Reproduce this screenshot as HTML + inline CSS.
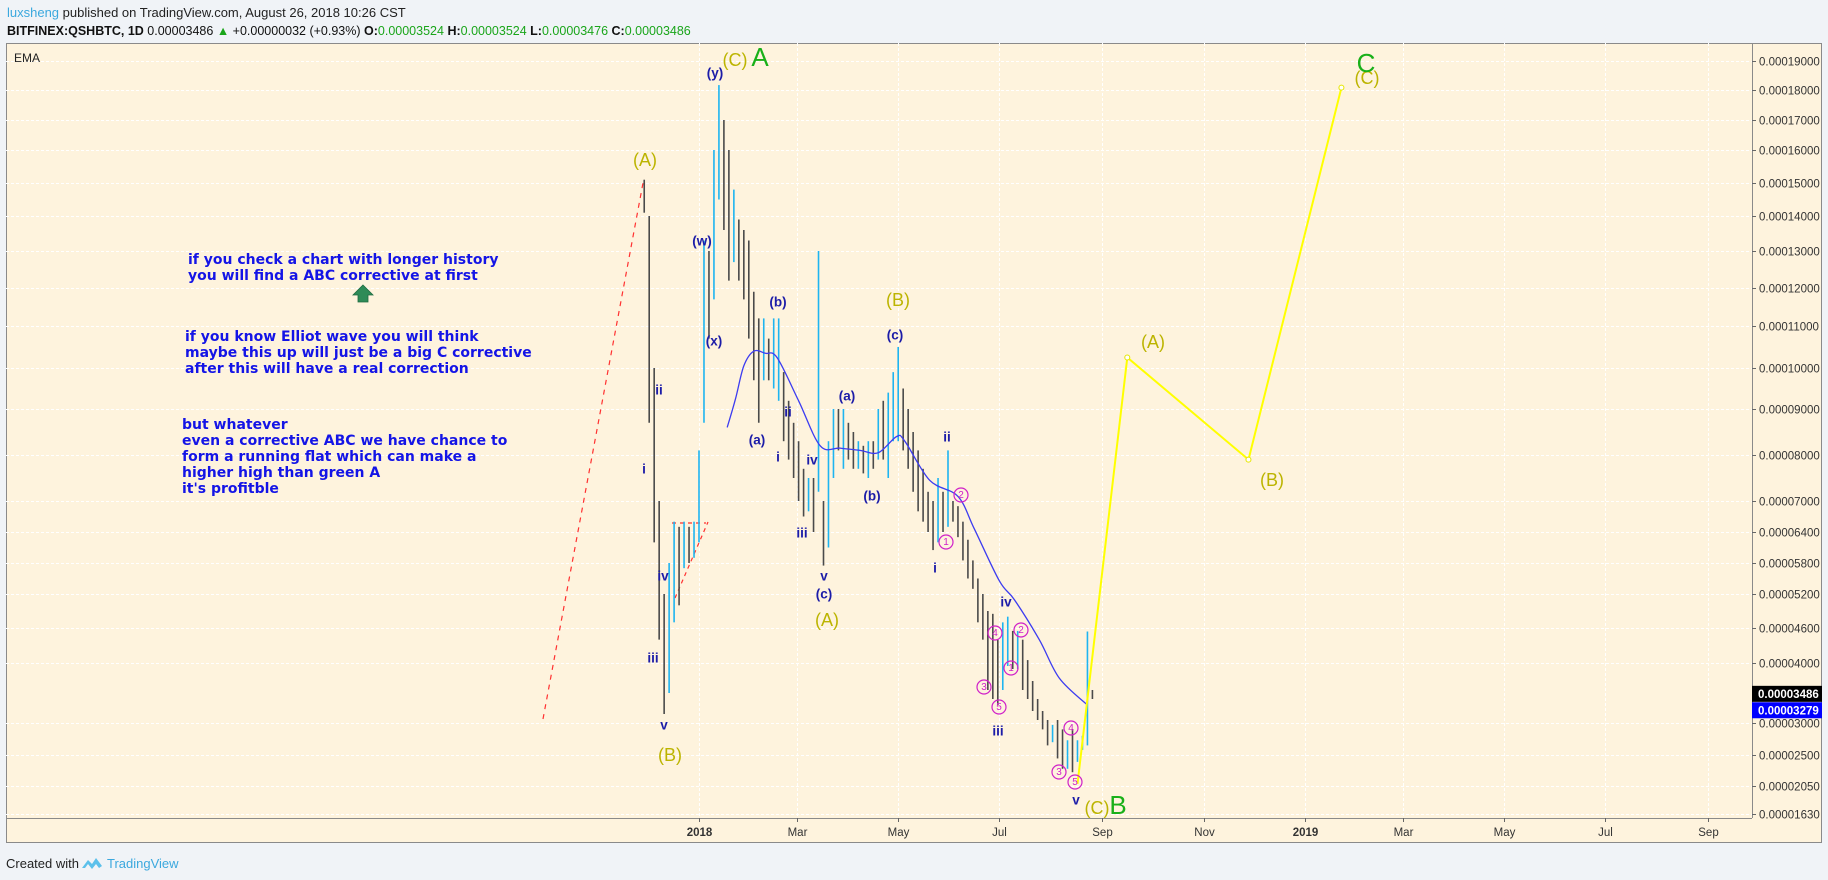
<!DOCTYPE html>
<html><head><meta charset="utf-8">
<style>
html,body{margin:0;padding:0;background:#f0f3f7;}
svg{display:block;font-family:"Liberation Sans",Arial,sans-serif;}
</style></head>
<body>
<svg id="chart" width="1828" height="880" viewBox="0 0 1828 880">
  <rect x="0" y="0" width="1828" height="880" fill="#f0f3f7"/>
  <g>
    <text x="7" y="17" font-size="13" fill="#222"><tspan fill="#3ba8de">luxsheng</tspan> published on TradingView.com, August 26, 2018 10:26 CST</text>
    <text x="7" y="35" font-size="12.5" fill="#111"><tspan font-weight="bold">BITFINEX:QSHBTC, 1D</tspan> 0.00003486 <tspan fill="#1aa51a">▲</tspan> +0.00000032 (+0.93%) <tspan font-weight="bold">O:</tspan><tspan fill="#1aa51a">0.00003524</tspan> <tspan font-weight="bold">H:</tspan><tspan fill="#1aa51a">0.00003524</tspan> <tspan font-weight="bold">L:</tspan><tspan fill="#1aa51a">0.00003476</tspan> <tspan font-weight="bold">C:</tspan><tspan fill="#1aa51a">0.00003486</tspan></text>
  </g>
  <rect x="6.5" y="43.5" width="1815" height="799" fill="#fef3dd" stroke="#8a8a8a" stroke-width="1"/>
  <g id="grid"></g>
  <g id="annot-under"></g>
  <g id="bars"></g>
  <g id="ema"></g>
  <g id="annot"></g>
  <line x1="6" y1="818.5" x2="1752" y2="818.5" stroke="#8a8a8a"/>
  <line x1="1752.5" y1="43" x2="1752.5" y2="818" stroke="#8a8a8a"/>
  <g id="yaxis"></g>
  <g id="xaxis"></g>
  <text x="14" y="62" font-size="12" fill="#222">EMA</text>
  <g font-family="'DejaVu Sans',sans-serif" font-weight="bold" font-size="14" fill="#1414e6">
    <text x="188" y="264">if you check a chart with longer history</text>
    <text x="188" y="280">you will find a ABC corrective at first</text>
    <text x="185" y="341">if you know Elliot wave you will think</text>
    <text x="185" y="357">maybe this up will just be a big C corrective</text>
    <text x="185" y="373">after this will have a real correction</text>
    <text x="182" y="429">but whatever</text>
    <text x="182" y="445">even a corrective ABC we have chance to</text>
    <text x="182" y="461">form a running flat which can make a</text>
    <text x="182" y="477">higher high than green A</text>
    <text x="182" y="493">it's profitble</text>
  </g>
  <path d="M363,285 L373,295 L368,295 L368,302 L358,302 L358,295 L353,295 Z" fill="#2e8b57" stroke="#1f6b40" stroke-width="0.8"/>
  <g>
    <text x="6" y="868" font-size="13" fill="#222">Created with</text>
    <path d="M82,868 L88,860 L92,864 L96,858 L102,866 L99,868 L96,864 L92,869 L88,864 L85,868 Z" fill="#5bc0eb"/>
    <text x="107" y="868" font-size="13" fill="#3ba8de">TradingView</text>
  </g>
</svg>
<script>
// ---- data (prices in satoshi, 1e-8 BTC) ----
const priceTicks = [19000,18000,17000,16000,15000,14000,13000,12000,11000,10000,9000,8000,7000,6400,5800,5200,4600,4000,3000,2500,2050,1630];
const tickY      = [61,90,120,150,183,216,251,288,326,368,409,455,501,532,563,594,628,663,723,755,786,814];
const timeLabels = ["2018","Mar","May","Jul","Sep","Nov","2019","Mar","May","Jul","Sep"];
const timeDays   = [0,59,120,181,243,304,365,424,485,546,608];
const barDays = [-33,-30,-27,-24,-21,-18,-15,-12,-9,-6,-3,0,3,6,9,12,15,18,21,24,27,30,33,36,39,42,45,48,51,54,57,60,63,66,69,72,75,78,81,84,87,90,93,96,99,102,105,108,111,114,117,120,123,126,129,132,135,138,141,144,147,150,153,156,159,162,165,168,171,174,177,180,183,186,189,192,195,198,201,204,207,210,213,216,219,222,225,228,231,234,237];
const barHigh = [15100,14000,10000,7000,5200,5800,6600,6500,6600,6500,6600,8100,13300,13000,16000,18170,17000,16000,14800,13900,13600,13300,11900,11200,11200,10700,11200,11200,9900,9200,8700,8300,7700,7500,7500,13000,7000,8300,9000,9000,9000,8700,8500,8300,8200,8300,8300,9000,9200,9400,9900,10500,9500,9000,8500,8100,7700,7200,7000,7500,7200,8100,7000,6900,6600,6250,5850,5500,5200,4900,4850,4400,4700,4800,4550,4550,4400,4050,3700,3400,3200,3050,2970,3050,2900,2730,2900,2730,2800,4540,3550];
const barLow  = [14100,8700,6200,4400,3150,3500,4700,5000,5700,5800,5900,6200,8700,10700,11700,14500,13600,12200,12700,12200,11700,10700,9700,8700,9700,9700,9500,9200,8300,7900,7500,7000,6700,6800,6400,7200,5750,6100,7500,8100,7700,7900,7700,7700,7600,7500,7700,7900,7900,7500,8300,8300,8100,7700,7200,6800,6600,6400,6050,6200,6400,6500,6600,6300,5850,5500,5300,4700,4400,3550,3400,3300,3550,3950,3900,3900,3550,3400,3200,3050,2900,2650,2700,2450,2300,2300,2250,2400,2580,2650,3400];
const barUp   = [0,0,0,0,0,1,1,0,1,0,1,1,1,0,1,1,0,0,1,0,0,0,0,0,1,0,1,1,0,0,0,0,0,1,0,1,0,1,1,0,1,0,0,1,0,1,0,1,0,1,1,1,0,0,0,0,0,0,0,1,0,1,0,0,0,0,0,0,0,0,0,0,1,1,0,1,0,0,0,0,0,0,1,0,0,1,0,1,1,1,0];
const emaDays = [17,22,27,33,40,47,60,73,85,97,108,119,124,139,156,166,181,190,205,217,234];
const emaVals = [8600,9250,10050,10400,10350,10250,9200,8200,8150,8100,8050,8400,8300,7450,7100,6450,5450,5100,4400,3750,3300];
const lastPrice = 3486, emaLast = 3279;
const projDays = [228,258,331,387];
const projVals = [2080,10250,7900,18080];

const NS="http://www.w3.org/2000/svg";
function xOf(d){ return 699 + d*1.66; }
function yOf(p){
  for(let i=0;i<priceTicks.length-1;i++){
    const a=priceTicks[i], b=priceTicks[i+1];
    if(p<=a && p>=b) return tickY[i] + (a-p)/(a-b)*(tickY[i+1]-tickY[i]);
  }
  if(p>priceTicks[0]) return tickY[0] - (p-priceTicks[0])/(priceTicks[0]-priceTicks[1])*(tickY[1]-tickY[0]);
  const n=priceTicks.length-1;
  return tickY[n] + (priceTicks[n]-p)/(priceTicks[n-1]-priceTicks[n])*(tickY[n]-tickY[n-1]);
}
function mk(tag, attrs, parent){ const e=document.createElementNS(NS,tag); for(const k in attrs) e.setAttribute(k,attrs[k]); parent.appendChild(e); return e; }
function fmt(p){ return (p/1e8).toFixed(8); }

const grid=document.getElementById('grid');
const yaxis=document.getElementById('yaxis');
priceTicks.forEach((p)=>{
  const y=Math.round(yOf(p))+0.5;
  const g=mk('line',{x1:6,y1:y,x2:1752,y2:y,stroke:'#ffffff','stroke-dasharray':'3,2','stroke-width':1},grid);
  
  
  const t=mk('line',{x1:1752,y1:y,x2:1756,y2:y,stroke:'#666'},yaxis);
  
  
  const l=mk('text',{x:1759,y:y+4,'font-size':11.5,fill:'#333'},yaxis);
  l.textContent=fmt(p);
  
  
});
const xaxis=document.getElementById('xaxis');
timeLabels.forEach((lab,i)=>{
  const x=Math.round(xOf(timeDays[i]))+0.5;
  const g=mk('line',{x1:x,y1:43,x2:x,y2:818,stroke:'#ffffff','stroke-dasharray':'3,2'},grid);
  
  
  const t=mk('line',{x1:x,y1:818,x2:x,y2:822,stroke:'#666'},xaxis);
  
  
  const l=mk('text',{x:x,y:836,'font-size':11.5,fill:'#333','text-anchor':'middle','font-weight':(lab.length===4?'bold':'normal')},xaxis);
  l.textContent=lab;
  
  
});

// bars
const bars=document.getElementById('bars');
barDays.forEach((d,i)=>{
  const x=xOf(d), col=barUp[i]?'#1eb4f0':'#4a4a4a';
  const b=mk('line',{x1:x,y1:yOf(barHigh[i]),x2:x,y2:yOf(barLow[i]),stroke:col,'stroke-width':1.6},bars);
  
  
});

// EMA (smooth catmull-rom through sampled values)
const ema=document.getElementById('ema');
const pts=emaDays.map((d,i)=>[xOf(d),yOf(emaVals[i])]);
let dstr='M'+pts[0][0].toFixed(1)+','+pts[0][1].toFixed(1);
for(let i=0;i<pts.length-1;i++){
  const p0=pts[Math.max(0,i-1)],p1=pts[i],p2=pts[i+1],p3=pts[Math.min(pts.length-1,i+2)];
  const c1=[p1[0]+(p2[0]-p0[0])/6,p1[1]+(p2[1]-p0[1])/6];
  const c2=[p2[0]-(p3[0]-p1[0])/6,p2[1]-(p3[1]-p1[1])/6];
  dstr+=' C'+c1[0].toFixed(1)+','+c1[1].toFixed(1)+' '+c2[0].toFixed(1)+','+c2[1].toFixed(1)+' '+p2[0].toFixed(1)+','+p2[1].toFixed(1);
}
const ep=mk('path',{d:dstr,fill:'none',stroke:'#3c3cf0','stroke-width':1.3},ema);



// last price labels
[[lastPrice,'#000'],[emaLast,'#0000ff']].forEach(([p,c],i)=>{
  const y=yOf(p)+(i===1?4:0);
  const r=mk('rect',{x:1752,y:y-8,width:70,height:16,fill:c},yaxis);
  
  
  const t=mk('text',{x:1758,y:y+4,'font-size':11.5,'font-weight':'bold',fill:'#fff'},yaxis);
  t.textContent=fmt(p);
  
  
});

// annotations
const an=document.getElementById('annot'), au=document.getElementById('annot-under');
const r1=mk('line',{x1:543,y1:719,x2:643,y2:183,stroke:'#ff3030','stroke-width':1.2,'stroke-dasharray':'5,5'},au);


const r2=mk('line',{x1:675,y1:598,x2:708,y2:522,stroke:'#ff3030','stroke-width':1.2,'stroke-dasharray':'4,4'},au);


const r3=mk('line',{x1:672,y1:523,x2:706,y2:523,stroke:'#ff3030','stroke-width':1.2,'stroke-dasharray':'4,4'},au);



const pj=mk('polyline',{points:projDays.map((d,i)=>xOf(d).toFixed(1)+','+yOf(projVals[i]).toFixed(1)).join(' '),fill:'none',stroke:'#ffff00','stroke-width':2},an);


projDays.slice(1).forEach((d,i)=>{
  const c=mk('circle',{cx:xOf(d),cy:yOf(projVals[i+1]),r:2.5,fill:'#fff',stroke:'#e6e600'},an);
  
  
});

function label(txt,x,y,size,color,weight,name){
  const t=mk('text',{x:x,y:y,'font-size':size,fill:color,'text-anchor':'middle','dominant-baseline':'central','font-weight':weight||'normal'},an);
  t.textContent=txt;
  
  
}
const OL='#bcb400', BL='#1c1ca8', GR='#19b019';
[["(A)",645,160],["(C)",735,60],["(B)",670,755],["(A)",827,620],["(B)",898,300],["(A)",1153,342],["(B)",1272,480],["(C)",1367,78],["(C)",1097,808]].forEach(a=>label(a[0],a[1],a[2],18,OL,'normal','wave-label-olive'));
[["A",760,57],["C",1366,63],["B",1118,805]].forEach(a=>label(a[0],a[1],a[2],26,GR,'normal','wave-label-green'));
[["(y)",715,73],["(w)",702,241],["(x)",714,341],["(b)",778,302],["(a)",757,440],["ii",659,390],["i",644,469],["iv",663,576],["iii",653,658],["v",664,725],
 ["ii",788,412],["i",778,457],["iv",812,460],["iii",802,533],["v",824,576],["(c)",824,594],["(a)",847,396],["(b)",872,496],["(c)",895,335],
 ["ii",947,437],["i",935,568],["iv",1006,602],["iii",998,731],["v",1076,800]].forEach(a=>label(a[0],a[1],a[2],13.5,BL,'bold','wave-label-blue'));
[["1",946,542],["2",961,495],["3",984,687],["4",995,633],["5",999,707],["1",1011,668],["2",1021,630],["3",1059,772],["4",1071,728],["5",1075,782]].forEach(a=>{
  const c=mk('circle',{cx:a[1],cy:a[2],r:7,fill:'none',stroke:'#d020c8','stroke-width':1.2},an);
  
  
  label(a[0],a[1],a[2]+0.5,10,'#d020c8','normal','subwave-number');
});
</script>
</body></html>
